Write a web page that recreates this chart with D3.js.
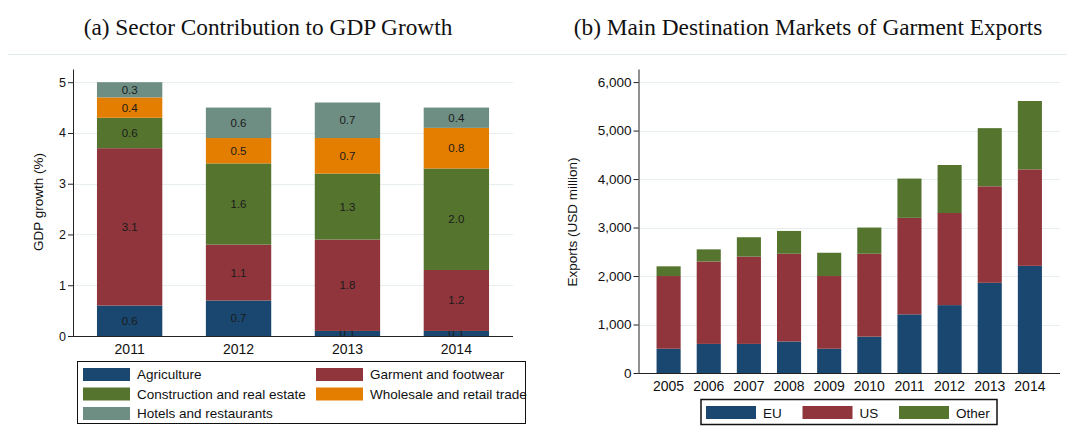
<!DOCTYPE html>
<html>
<head>
<meta charset="utf-8">
<script src="https://cdn.jsdelivr.net/npm/d3@7"></script>
<style>
  body { margin: 0; background: #fff; }
  text { font-family: "Liberation Sans", Arial, sans-serif; }
  .title { font-family: "Liberation Serif", "Times New Roman", serif; }
</style>
</head>
<body>
<script>
// ---- panel (a) data
const years = ["2011", "2012", "2013", "2014"];
const sectors = ["Agriculture", "Garment and footwear", "Construction and real estate",
  "Wholesale and retail trade", "Hotels and restaurants"];
const agriculture = [0.6, 0.7, 0.1, 0.1];
const garment = [3.1, 1.1, 1.8, 1.2];
const construction = [0.6, 1.6, 1.3, 2.0];
const wholesale = [0.4, 0.5, 0.7, 0.8];
const hotels = [0.3, 0.6, 0.7, 0.4];
const gdpTicks = [0, 1, 2, 3, 4, 5];

// ---- panel (b) data
const expYears = ["2005", "2006", "2007", "2008", "2009", "2010", "2011", "2012", "2013", "2014"];
const markets = ["EU", "US", "Other"];
const eu = [500, 600, 600, 650, 500, 750, 1210, 1400, 1860, 2210];
const us = [1500, 1700, 1800, 1810, 1500, 1710, 1990, 1900, 1990, 1990];
const other = [200, 250, 400, 470, 480, 540, 810, 990, 1200, 1410];
const expTicks = [0, 1000, 2000, 3000, 4000, 5000, 6000];

const colA = ["#1a476f", "#90353b", "#55752f", "#e37e00", "#6e8e84"];
const colB = ["#1a476f", "#90353b", "#55752f"];

const W = 1067, H = 432;
const svg = d3.select("body").append("svg").attr("width", W).attr("height", H);

// separator under titles
svg.append("line").attr("x1", 8).attr("x2", W).attr("y1", 54.5).attr("y2", 54.5)
  .attr("stroke", "#e4ecf0").attr("stroke-width", 1);

svg.append("text").attr("class", "title").attr("x", 268).attr("y", 35)
  .attr("text-anchor", "middle").attr("font-size", 23.3).attr("fill", "#111")
  .text("(a) Sector Contribution to GDP Growth");
svg.append("text").attr("class", "title").attr("x", 808).attr("y", 35)
  .attr("text-anchor", "middle").attr("font-size", 23.3).attr("fill", "#111")
  .text("(b) Main Destination Markets of Garment Exports");

// generic stacked bar panel
function panel(opt) {
  const g = svg.append("g");
  const x = d3.scaleBand().domain(opt.cats).range([opt.x0, opt.x1])
    .paddingInner(opt.pi).paddingOuter(opt.po);
  const y = d3.scaleLinear().domain(opt.ydom).range([opt.y0, opt.ytop]);

  // gridlines
  g.selectAll(".grid").data(opt.ticks).join("line")
    .attr("x1", opt.x0).attr("x2", opt.x1)
    .attr("y1", d => Math.round(y(d)) + 0.5).attr("y2", d => Math.round(y(d)) + 0.5)
    .attr("stroke", "#e6eef0").attr("stroke-width", 1);

  const rows = opt.cats.map((c, i) => {
    const r = { cat: c };
    opt.keys.forEach((k, j) => r[k] = opt.series[j][i]);
    return r;
  });
  const stacked = d3.stack().keys(opt.keys)(rows);

  const layers = g.selectAll(".layer").data(stacked).join("g")
    .attr("fill", (d, i) => opt.colors[i]);
  layers.selectAll("rect").data(d => d).join("rect")
    .attr("x", d => x(d.data.cat))
    .attr("width", x.bandwidth())
    .attr("y", d => y(d[1]))
    .attr("height", d => y(d[0]) - y(d[1]));

  if (opt.labels) {
    layers.selectAll("text").data(d => d.map(p => ({ p: p, key: d.key }))).join("text")
      .attr("x", d => x(d.p.data.cat) + x.bandwidth() / 2)
      .attr("y", d => y((d.p[0] + d.p[1]) / 2))
      .attr("dy", "0.35em")
      .attr("text-anchor", "middle")
      .attr("font-size", 11.5)
      .attr("fill", "#1b1b1b")
      .text(d => d3.format(".1f")(d.p.data[d.key]));
  }

  // y axis
  const ya = g.append("g").attr("transform", `translate(${opt.x0},0)`)
    .call(d3.axisLeft(y).tickValues(opt.ticks).tickSize(5).tickSizeOuter(0).tickFormat(opt.fmt));
  ya.select(".domain").attr("stroke", "#222");
  ya.selectAll(".tick line").attr("stroke", "#222");
  ya.selectAll(".tick text").attr("font-size", opt.yfs).attr("fill", "#111")
    .attr("font-family", "Liberation Sans, Arial, sans-serif").attr("x", -7);

  // x axis line + labels
  g.append("line").attr("x1", opt.x0).attr("x2", opt.x1)
    .attr("y1", opt.y0 + 0.5).attr("y2", opt.y0 + 0.5).attr("stroke", "#222");
  g.selectAll(".xl").data(opt.cats).join("text")
    .attr("x", d => x(d) + x.bandwidth() / 2)
    .attr("y", opt.y0 + 18)
    .attr("text-anchor", "middle").attr("font-size", 14).attr("fill", "#111")
    .text(d => d);

  // y title
  g.append("text")
    .attr("transform", `translate(${opt.tx},${opt.ty}) rotate(-90)`)
    .attr("text-anchor", "middle").attr("font-size", 13.5).attr("fill", "#111")
    .text(opt.ytitle);
}

panel({
  cats: years, keys: sectors, series: [agriculture, garment, construction, wholesale, hotels],
  colors: colA, x0: 73, x1: 513, pi: 0.4, po: 0.22, ydom: [0, 5.26], y0: 336, ytop: 69,
  ticks: gdpTicks, fmt: d3.format("d"), yfs: 12.5, labels: true,
  ytitle: "GDP growth (%)", tx: 43, ty: 202
});

panel({
  cats: expYears, keys: markets, series: [eu, us, other],
  colors: colB, x0: 638.5, x1: 1060, pi: 0.4, po: 0.45, ydom: [0, 6270], y0: 373, ytop: 69,
  ticks: expTicks, fmt: d3.format(","), yfs: 13.5, labels: false,
  ytitle: "Exports (USD million)", tx: 577, ty: 222
});

// legend (a)
const legA = svg.append("g");
legA.append("rect").attr("x", 77.5).attr("y", 361.5).attr("width", 448).attr("height", 62)
  .attr("fill", "none").attr("stroke", "#111").attr("stroke-width", 1);
const legAItems = legA.selectAll(".it").data(sectors).join("g")
  .attr("transform", (d, i) => `translate(${i % 2 ? 316 : 83},${368 + Math.floor(i / 2) * 19.5})`);
legAItems.append("rect").attr("width", 47).attr("height", 13)
  .attr("fill", (d, i) => colA[i]);
legAItems.append("text").attr("x", 54).attr("y", 11).attr("font-size", 13.5).attr("fill", "#111")
  .text(d => d);

// legend (b)
const legB = svg.append("g");
legB.append("rect").attr("x", 701).attr("y", 399.5).attr("width", 296).attr("height", 25)
  .attr("fill", "none").attr("stroke", "#111").attr("stroke-width", 1.5);
const legBItems = legB.selectAll(".it").data(markets).join("g")
  .attr("transform", (d, i) => `translate(${706 + i * 96.5},406)`);
legBItems.append("rect").attr("width", 50).attr("height", 13)
  .attr("fill", (d, i) => colB[i]);
legBItems.append("text").attr("x", 57).attr("y", 11.5).attr("font-size", 13.5).attr("fill", "#111")
  .text(d => d);
</script>
</body>
</html>
